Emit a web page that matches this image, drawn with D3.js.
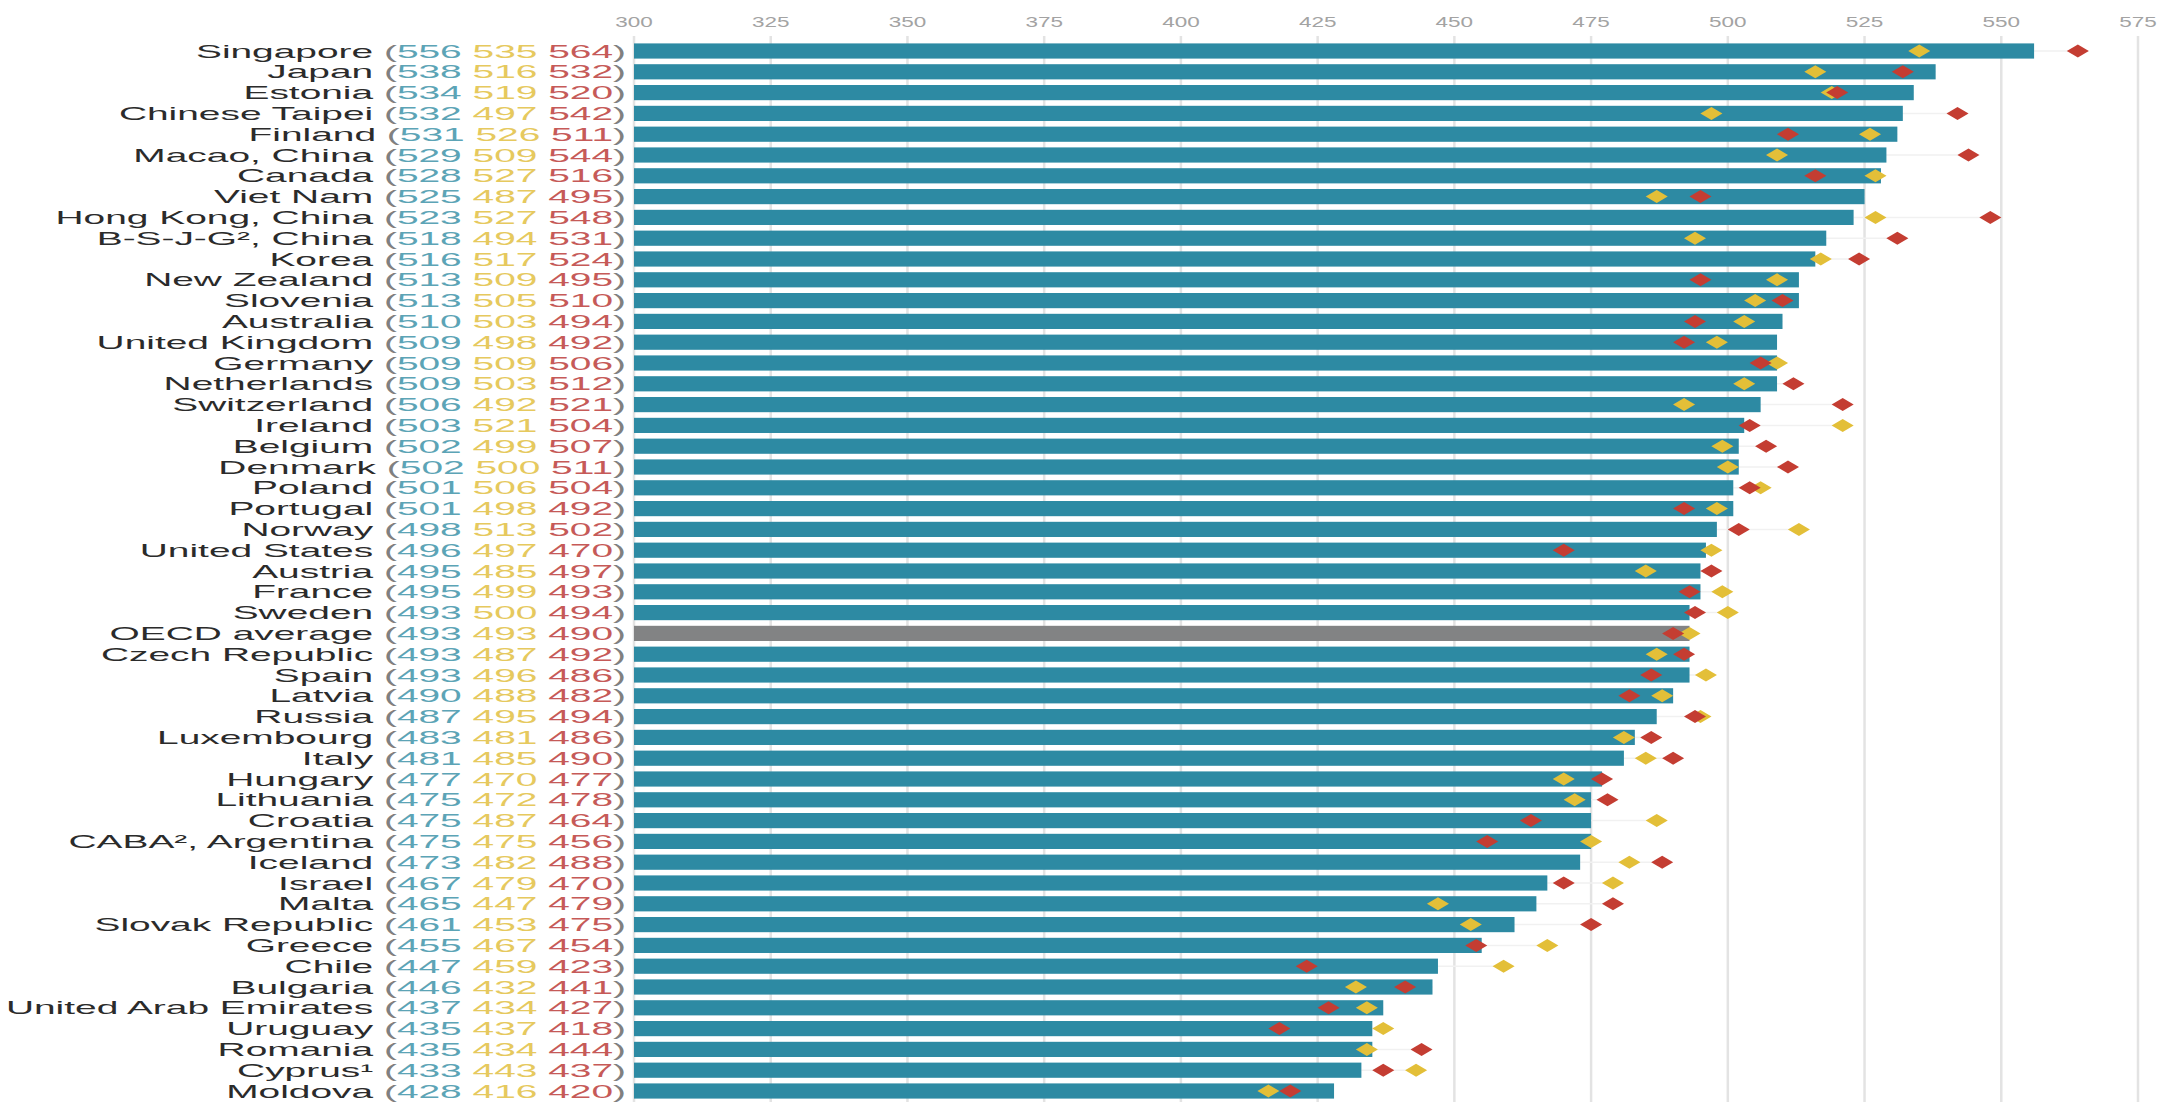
<!DOCTYPE html>
<html>
<head>
<meta charset="utf-8">
<script src="https://cdn.jsdelivr.net/npm/d3@7"></script>
<style>
  body { margin: 0; background: #fff; }
  svg { display: block; font-family: "Liberation Sans", Arial, sans-serif; }
</style>
</head>
<body>
<div class="chart"></div>
<script>
// PISA 2015 mean scores: science (bars), reading (yellow), mathematics (red)
const names = ["Singapore", "Japan", "Estonia", "Chinese Taipei", "Finland", "Macao, China", "Canada",
  "Viet Nam", "Hong Kong, China", "B-S-J-G², China", "Korea", "New Zealand", "Slovenia", "Australia",
  "United Kingdom", "Germany", "Netherlands", "Switzerland", "Ireland", "Belgium", "Denmark", "Poland",
  "Portugal", "Norway", "United States", "Austria", "France", "Sweden", "OECD average", "Czech Republic",
  "Spain", "Latvia", "Russia", "Luxembourg", "Italy", "Hungary", "Lithuania", "Croatia",
  "CABA², Argentina", "Iceland", "Israel", "Malta", "Slovak Republic", "Greece", "Chile", "Bulgaria",
  "United Arab Emirates", "Uruguay", "Romania", "Cyprus¹", "Moldova"]

const science = [556, 538, 534, 532, 531, 529, 528, 525, 523, 518, 516, 513, 513, 510, 509, 509, 509, 506,
  503, 502, 502, 501, 501, 498, 496, 495, 495, 493, 493, 493, 493, 490, 487, 483, 481, 477, 475, 475, 475,
  473, 467, 465, 461, 455, 447, 446, 437, 435, 435, 433, 428]

const reading = [535, 516, 519, 497, 526, 509, 527, 487, 527, 494, 517, 509, 505, 503, 498, 509, 503, 492,
  521, 499, 500, 506, 498, 513, 497, 485, 499, 500, 493, 487, 496, 488, 495, 481, 485, 470, 472, 487, 475,
  482, 479, 447, 453, 467, 459, 432, 434, 437, 434, 443, 416]

const math = [564, 532, 520, 542, 511, 544, 516, 495, 548, 531, 524, 495, 510, 494, 492, 506, 512, 521,
  504, 507, 511, 504, 492, 502, 470, 497, 493, 494, 490, 492, 486, 482, 494, 486, 490, 477, 478, 464, 456,
  488, 470, 479, 475, 454, 423, 441, 427, 418, 444, 437, 420]

const ticks = [300, 325, 350, 375, 400, 425, 450, 475, 500, 525, 550, 575]
const average = "OECD average"

const rows = names.map((name, i) => ({ name, science: science[i], reading: reading[i], math: math[i] }))

const width = 2159
const height = 1102
const labelRight = 626
const stretch = 2.16   // the source picture is stretched sideways

const colors = { bar: "#2d8aa3", avg: "#828384", reading: "#e3bf38", math: "#c43d32",
  tScience: "#5ca4b6", tReading: "#e6c95e", tMath: "#c65a58" }

const x = d3.scaleLinear().domain([300, 575]).range([634, 2138])
const y = d3.scaleBand().domain(names).range([40.6, 1101.4]).paddingInner(0.27).paddingOuter(0.135)

const svg = d3.select(".chart").append("svg")
  .attr("width", width)
  .attr("height", height)

// grid
svg.append("g")
  .selectAll("line")
  .data(ticks)
  .join("line")
    .attr("x1", d => x(d)).attr("x2", d => x(d))
    .attr("y1", 36).attr("y2", height)
    .attr("stroke", "#e3e3e3")
    .attr("stroke-width", 2.5)

// tick labels along the top
svg.append("g")
  .selectAll("text")
  .data(ticks)
  .join("text")
    .attr("transform", d => `translate(${x(d)},27) scale(1.5,1)`)
    .attr("text-anchor", "middle")
    .attr("font-size", 15)
    .attr("fill", "#a3a3a3")
    .text(d => d)

// faint range line between lowest and highest score
svg.append("g")
  .selectAll("line")
  .data(rows)
  .join("line")
    .attr("x1", d => x(Math.min(d.science, d.reading, d.math)))
    .attr("x2", d => x(Math.max(d.science, d.reading, d.math)))
    .attr("y1", d => y(d.name) + y.bandwidth() / 2)
    .attr("y2", d => y(d.name) + y.bandwidth() / 2)
    .attr("stroke", "#f1f1f1")
    .attr("stroke-width", 1.5)

// bars
svg.append("g")
  .selectAll("rect")
  .data(rows)
  .join("rect")
    .attr("x", x(300))
    .attr("y", d => y(d.name))
    .attr("width", d => x(d.science) - x(300))
    .attr("height", y.bandwidth())
    .attr("fill", d => d.name === average ? colors.avg : colors.bar)

// diamonds
const diamond = d3.symbol(d3.symbolSquare, 84)
const marks = [["reading", colors.reading], ["math", colors.math]]
marks.forEach(([key, color]) => {
  svg.append("g")
    .selectAll("path")
    .data(rows)
    .join("path")
      .attr("d", diamond)
      .attr("transform", d => `translate(${x(d[key])},${y(d.name) + y.bandwidth() / 2}) scale(1.7,1) rotate(45)`)
      .attr("fill", color)
})

// row labels
const label = svg.append("g")
  .selectAll("text")
  .data(rows)
  .join("text")
    .attr("transform", d => `translate(${labelRight},${y(d.name) + y.bandwidth() / 2 + 6.5}) scale(${stretch},1)`)
    .attr("text-anchor", "end")
    .attr("font-size", 18)
    .attr("fill", "#2b2b2b")

label.append("tspan").text(d => d.name + " ")
label.append("tspan").attr("fill", "#808080").text("(")
label.append("tspan").attr("fill", colors.tScience).text(d => d.science)
label.append("tspan").text(" ")
label.append("tspan").attr("fill", colors.tReading).text(d => d.reading)
label.append("tspan").text(" ")
label.append("tspan").attr("fill", colors.tMath).text(d => d.math)
label.append("tspan").attr("fill", "#808080").text(")")
</script>
</body>
</html>
